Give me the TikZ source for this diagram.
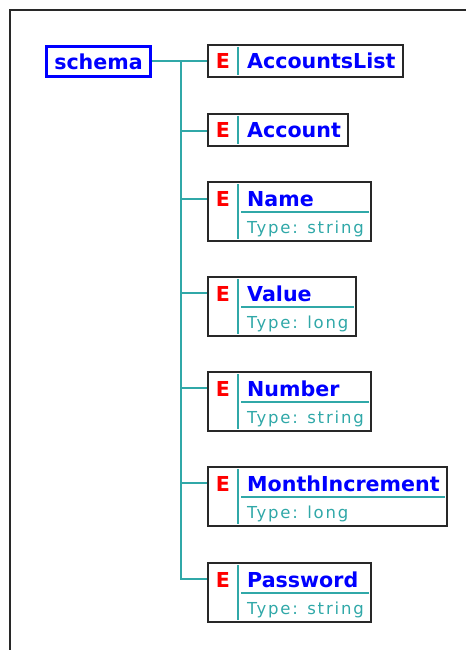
\documentclass[tikz,border=0pt]{standalone}
\usepackage{fontspec}
\setmainfont{DejaVu Sans}
\newfontfamily\typefont{DejaVu Sans}[LetterSpace=11]
\usepackage{xcolor}
\usetikzlibrary{positioning, fit}
\definecolor{xsdblue}{RGB}{0,0,255}
\definecolor{xsdred}{RGB}{255,0,0}
\definecolor{xsdteal}{RGB}{48,168,168}
\definecolor{xsdgray}{RGB}{40,40,40}

\begin{document}
\begin{tikzpicture}[
    x=1pt, y=-1pt,
    root/.style={draw=xsdblue, line width=3pt, minimum width=104pt, minimum height=30pt, inner sep=0pt, text=xsdblue, font=\bfseries\fontsize{20.6}{24}\selectfont},
    elbox/.style={draw=xsdgray, line width=2pt, inner sep=0pt},
    etag/.style={anchor=base, inner sep=0pt, text=xsdred, font=\bfseries\fontsize{20.6}{24}\selectfont},
    eltitle/.style={anchor=base west, inner xsep=7pt, inner ysep=0pt, text=xsdblue, font=\bfseries\fontsize{20.6}{24}\selectfont},
    eltype/.style={anchor=base west, inner xsep=7pt, inner ysep=0pt, text=xsdteal, font=\typefont\fontsize{16.5}{19}\selectfont},
    divider/.style={draw=xsdteal, line width=2pt},
    link/.style={draw=xsdteal, line width=2pt},
    pageframe/.style={draw=xsdgray, line width=2pt},
]
\useasboundingbox (0,0) rectangle (466,650);
\draw[pageframe] (10,650) -- (10,10) -- (466,10);

% Root
\node[root] (schema) at (98.5,61.5) {schema};
\coordinate[right=29pt of schema.east] (trunk);

% AccountsList
\node[etag] (accountslistE) at (223,69) {E};
\node[eltitle] (accountslistT) at (240,69) {AccountsList};
\node[elbox, fit={(208,45) (208,77) (accountslistT)}] (accountslist) {};
\draw[divider] ([shift={(31,3)}]accountslist.north west) -- ([shift={(31,-3)}]accountslist.south west);

% Account
\node[etag] (accountE) at (223,138) {E};
\node[eltitle] (accountT) at (240,138) {Account};
\node[elbox, fit={(208,114) (208,146) (accountT)}] (account) {};
\draw[divider] ([shift={(31,3)}]account.north west) -- ([shift={(31,-3)}]account.south west);

% Name
\node[etag] (nameE) at (223,206) {E};
\node[eltitle] (nameT) at (240,206) {Name};
\node[eltype] (nameY) at (240,233) {Type: string};
\node[elbox, fit={(208,182) (208,241) (nameT) (nameY)}] (name) {};
\draw[divider] ([shift={(31,3)}]name.north west) -- ([shift={(31,-3)}]name.south west);
\draw[divider] ([shift={(34,31)}]name.north west) -- ([shift={(-3,31)}]name.north east);

% Value
\node[etag] (valueE) at (223,301) {E};
\node[eltitle] (valueT) at (240,301) {Value};
\node[eltype] (valueY) at (240,328) {Type: long};
\node[elbox, fit={(208,277) (208,336) (valueT) (valueY)}] (value) {};
\draw[divider] ([shift={(31,3)}]value.north west) -- ([shift={(31,-3)}]value.south west);
\draw[divider] ([shift={(34,31)}]value.north west) -- ([shift={(-3,31)}]value.north east);

% Number
\node[etag] (numberE) at (223,396) {E};
\node[eltitle] (numberT) at (240,396) {Number};
\node[eltype] (numberY) at (240,423) {Type: string};
\node[elbox, fit={(208,372) (208,431) (numberT) (numberY)}] (number) {};
\draw[divider] ([shift={(31,3)}]number.north west) -- ([shift={(31,-3)}]number.south west);
\draw[divider] ([shift={(34,31)}]number.north west) -- ([shift={(-3,31)}]number.north east);

% MonthIncrement
\node[etag] (monthE) at (223,491) {E};
\node[eltitle] (monthT) at (240,491) {MonthIncrement};
\node[eltype] (monthY) at (240,518) {Type: long};
\node[elbox, fit={(208,467) (208,526) (monthT) (monthY)}] (month) {};
\draw[divider] ([shift={(31,3)}]month.north west) -- ([shift={(31,-3)}]month.south west);
\draw[divider] ([shift={(34,31)}]month.north west) -- ([shift={(-3,31)}]month.north east);

% Password
\node[etag] (passwordE) at (223,587) {E};
\node[eltitle] (passwordT) at (240,587) {Password};
\node[eltype] (passwordY) at (240,614) {Type: string};
\node[elbox, fit={(208,563) (208,622) (passwordT) (passwordY)}] (password) {};
\draw[divider] ([shift={(31,3)}]password.north west) -- ([shift={(31,-3)}]password.south west);
\draw[divider] ([shift={(34,31)}]password.north west) -- ([shift={(-3,31)}]password.north east);

% Connectors
\draw[link] (schema.east) -- (accountslist.west |- schema.east);
\draw[link] (trunk) |- (account.west |- accountT);
\draw[link] (trunk) |- (name.west |- nameT);
\draw[link] (trunk) |- (value.west |- valueT);
\draw[link] (trunk) |- (number.west |- numberT);
\draw[link] (trunk) |- (month.west |- monthT);
\draw[link] (trunk) |- (password.west |- passwordT);

\end{tikzpicture}
\end{document}
